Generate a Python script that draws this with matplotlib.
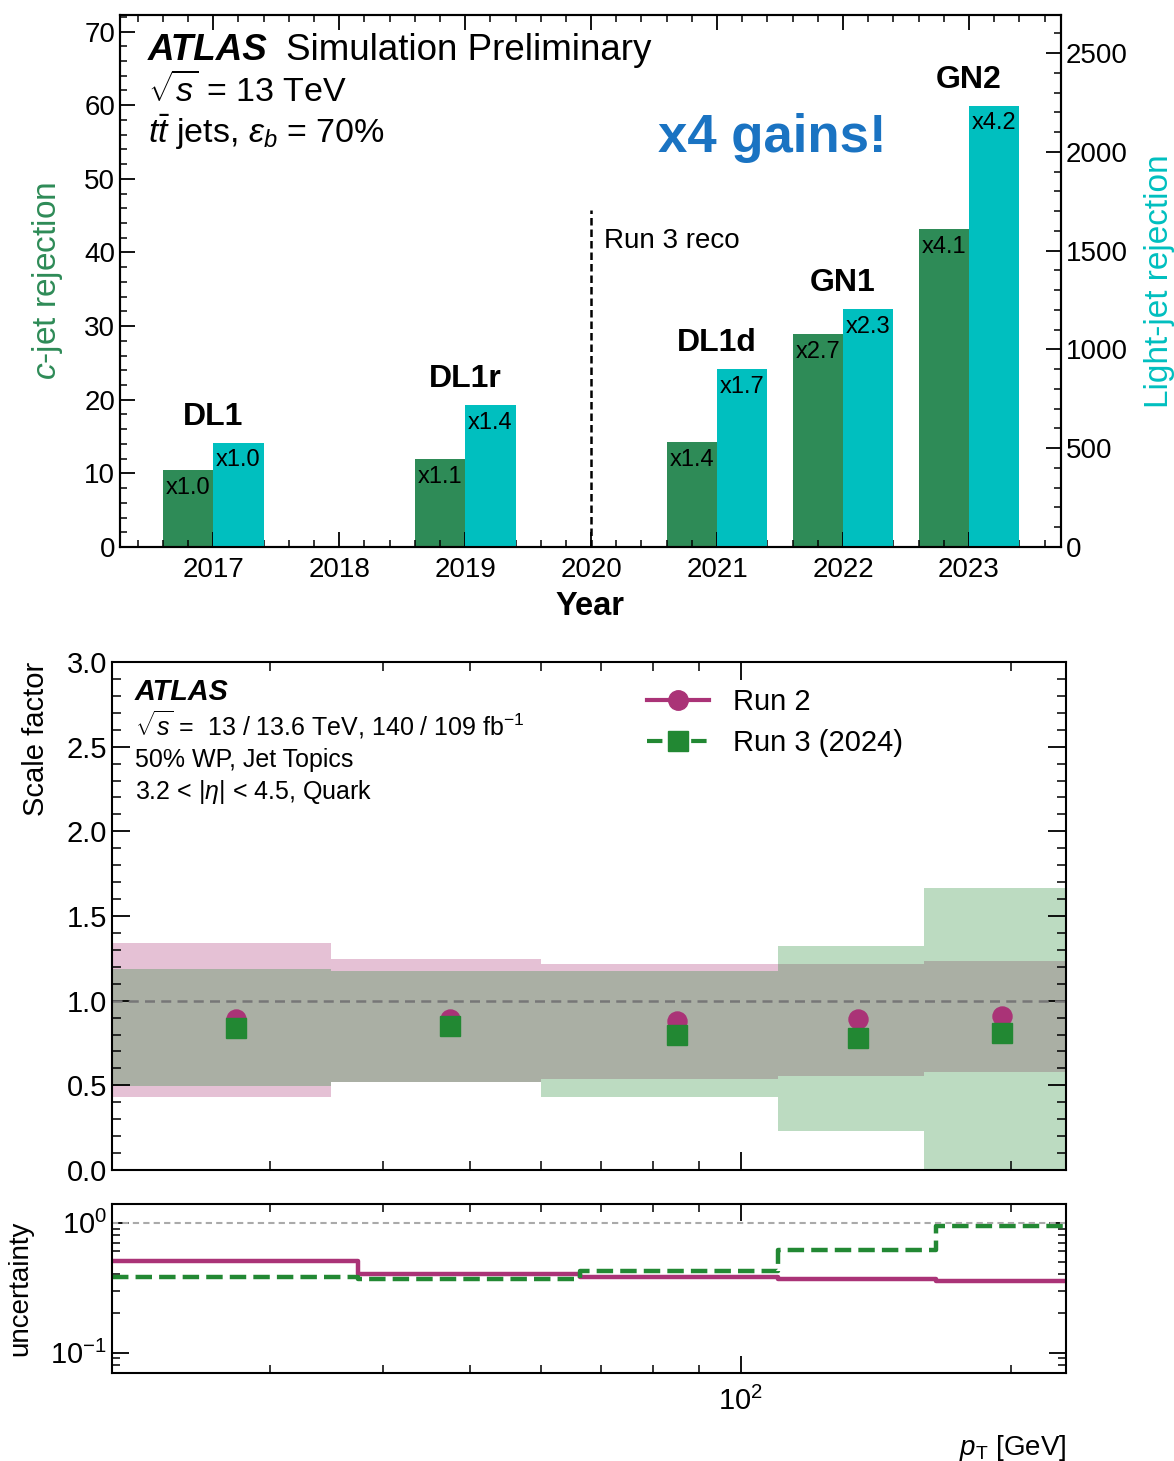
import numpy as np
import matplotlib
matplotlib.use('Agg')
import matplotlib.pyplot as plt
from matplotlib.lines import Line2D
from matplotlib.ticker import MultipleLocator, LogLocator, NullFormatter, FormatStrFormatter

plt.rcParams['font.family'] = ['Liberation Sans', 'DejaVu Sans']
plt.rcParams['mathtext.fontset'] = 'custom'
plt.rcParams['mathtext.rm'] = 'Liberation Sans'
plt.rcParams['mathtext.it'] = 'Liberation Sans:italic'
plt.rcParams['mathtext.bf'] = 'Liberation Sans:bold'

# ---- top panel: tagger performance vs year ----
years = [2017, 2019, 2021, 2022, 2023]
taggers = ['DL1', 'DL1r', 'DL1d', 'GN1', 'GN2']
c_rej = [10.5, 11.9, 14.3, 28.9, 43.2]
light_rej = [527, 717, 899, 1203, 2232]
c_gain = ['x1.0', 'x1.1', 'x1.4', 'x2.7', 'x4.1']
light_gain = ['x1.0', 'x1.4', 'x1.7', 'x2.3', 'x4.2']

# ---- middle/bottom panel: scale factors vs pT ----
pt_edges = [20, 35, 60, 110, 160, 230]
pt_centers = [27.5, 47.5, 85, 135, 195]
sf_run2 = [0.89, 0.89, 0.88, 0.89, 0.91]
sf_run3 = [0.84, 0.85, 0.80, 0.78, 0.81]
run2_lo = [0.43, 0.52, 0.536, 0.555, 0.579]
run2_hi = [1.341, 1.244, 1.215, 1.219, 1.234]
run3_lo = [0.497, 0.52, 0.428, 0.228, -0.05]
run3_hi = [1.188, 1.175, 1.175, 1.323, 1.666]
unc_run2 = [0.507, 0.405, 0.384, 0.369, 0.356]
unc_run3 = [0.384, 0.367, 0.425, 0.613, 0.938]

green_bar = '#2e8b57'
cyan_bar = '#00bfbf'
purple = '#AA3377'
green = '#228833'

fig = plt.figure(figsize=(11.74, 14.61), dpi=100)

ax = fig.add_axes([0.1022, 0.6256, 0.8015, 0.3644])
ax2 = ax.twinx()
w = 0.4
yr = np.array(years)
ax.bar(yr - w / 2, c_rej, width=w, color=green_bar)
ax2.bar(yr + w / 2, light_rej, width=w, color=cyan_bar)
ax.set_xlim(2016.26, 2023.73)
ax.set_ylim(0, 72.3)
ax2.set_ylim(0, 2695)

for x, v, g in zip(yr - w / 2, c_rej, c_gain):
    ax.annotate(g, (x, v), xytext=(0, -13), textcoords='offset points',
                ha='center', va='center', fontsize=17)
for x, v, g in zip(yr + w / 2, light_rej, light_gain):
    ax2.annotate(g, (x, v), xytext=(0, -12.5), textcoords='offset points',
                 ha='center', va='center', fontsize=17)
for x, v, t in zip(yr, light_rej, taggers):
    ax2.annotate(t, (x, v), xytext=(0, 19), textcoords='offset points',
                 ha='center', va='center', fontsize=23, weight='bold')

ax.plot([2020, 2020], [0, 45.8], color='k', ls='--', lw=1.8, dashes=(3, 1.6))
ax.text(2020.1, 41.6, 'Run 3 reco', fontsize=20, va='center', ha='left')
ax.text(2021.44, 55.6, 'x4 gains!', fontsize=38, weight='bold', color='#1a73c2',
        ha='center', va='center')

ax.text(0.0298, 0.9335, 'ATLAS', transform=ax.transAxes, fontsize=26.5,
        weight='bold', style='italic', va='center')
ax.text(0.1764, 0.9335, 'Simulation Preliminary', transform=ax.transAxes,
        fontsize=26.5, va='center')
ax.text(0.0298, 0.8565, r'$\sqrt{s}$ = 13 TeV', transform=ax.transAxes,
        fontsize=24.5, va='center')
ax.text(0.0298, 0.779, r'$t\bar{t}$ jets, $\varepsilon_b$ = 70%',
        transform=ax.transAxes, fontsize=24.5, va='center')

ax.set_xlabel('Year', fontsize=23.5, weight='bold', labelpad=6)
ax.set_ylabel('$c$-jet rejection', fontsize=24, color=green_bar, labelpad=14)
ax2.set_ylabel('Light-jet rejection', fontsize=24, color=cyan_bar, labelpad=12)

ax.xaxis.set_major_locator(MultipleLocator(1))
ax.xaxis.set_minor_locator(MultipleLocator(0.2))
ax.yaxis.set_major_locator(MultipleLocator(10))
ax.yaxis.set_minor_locator(MultipleLocator(2))
ax2.yaxis.set_major_locator(MultipleLocator(500))
ax2.yaxis.set_minor_locator(MultipleLocator(100))
ax.tick_params(axis='x', which='both', direction='in', top=True, labelsize=20, pad=7)
ax.tick_params(axis='y', which='both', direction='in', right=False, labelsize=20)
ax2.tick_params(axis='y', which='both', direction='in', labelsize=20)
for a in (ax, ax2):
    a.tick_params(which='major', length=11, width=1.3)
    a.tick_params(which='minor', length=5, width=1.1)
    for s in a.spines.values():
        s.set_linewidth(1.5)

# ---- middle panel ----
axm = fig.add_axes([0.0954, 0.1992, 0.8126, 0.3477])
axm.set_xscale('log')
widths = np.diff(pt_edges)
axm.bar(pt_edges[:-1], np.array(run2_hi) - np.array(run2_lo), width=widths,
        bottom=run2_lo, align='edge', color=purple, alpha=0.3, lw=0, zorder=1)
axm.bar(pt_edges[:-1], np.array(run3_hi) - np.array(run3_lo), width=widths,
        bottom=run3_lo, align='edge', color=green, alpha=0.3, lw=0, zorder=1)
axm.axhline(1.0, color='#777777', ls='--', lw=1.8, dashes=(4, 2.5), zorder=2)
axm.plot(pt_centers, sf_run2, 'o', color=purple, ms=13.7, zorder=3)
axm.plot(pt_centers, sf_run3, 's', color=green, ms=13.7, zorder=4)
axm.set_xlim(pt_edges[0], pt_edges[-1])
axm.set_ylim(0, 3)
axm.yaxis.set_major_locator(MultipleLocator(0.5))
axm.yaxis.set_minor_locator(MultipleLocator(0.1))
axm.yaxis.set_major_formatter(FormatStrFormatter('%.1f'))
axm.xaxis.set_minor_formatter(NullFormatter())
axm.tick_params(which='both', direction='in', top=True, right=True,
                labelbottom=False, labelsize=21)
axm.tick_params(which='major', length=13, width=1.3)
axm.tick_params(which='minor', length=6.5, width=1.1)
axm.set_ylabel('Scale factor', fontsize=21, loc='top')
axm.yaxis.set_label_coords(-0.065, 1.0)

handles = [Line2D([], [], color=purple, lw=3, marker='o', ms=14),
           Line2D([], [], color=green, lw=3, ls='--', marker='s', ms=14)]
axm.legend(handles, ['Run 2', 'Run 3 (2024)'], loc='upper left',
           bbox_to_anchor=(0.533, 1.0), frameon=False, fontsize=21,
           handlelength=2.15, handletextpad=0.8, labelspacing=0.45)

axm.text(0.0241, 0.941, 'ATLAS', transform=axm.transAxes, fontsize=20.7,
         weight='bold', style='italic', va='center')
axm.text(0.0241, 0.876, r'$\sqrt{s}$ =  13 / 13.6 TeV, 140 / 109 fb$^{-1}$',
         transform=axm.transAxes, fontsize=18, va='center')
axm.text(0.0241, 0.807, '50% WP, Jet Topics', transform=axm.transAxes,
         fontsize=18, va='center')
axm.text(0.0241, 0.744, r'3.2 < $|\eta|$ < 4.5, Quark', transform=axm.transAxes,
         fontsize=18, va='center')

# ---- bottom panel: relative uncertainty ----
axb = fig.add_axes([0.0954, 0.0602, 0.8126, 0.1157])
xs = [pt_edges[0]] + pt_centers + [pt_edges[-1]]
axb.step(xs, [unc_run2[0]] + unc_run2 + [unc_run2[-1]], where='mid',
         color=purple, lw=3.2)
axb.step(xs, [unc_run3[0]] + unc_run3 + [unc_run3[-1]], where='mid',
         color=green, lw=3.2, ls='--')
axb.axhline(1.0, color='#aaaaaa', ls='--', lw=1.5, dashes=(3, 2))
axb.set_xscale('log')
axb.set_yscale('log')
axb.set_xlim(pt_edges[0], pt_edges[-1])
axb.set_ylim(0.0695, 1.39)
axb.xaxis.set_minor_formatter(NullFormatter())
axb.yaxis.set_minor_formatter(NullFormatter())
axb.tick_params(which='both', direction='in', top=True, right=True, labelsize=21)
axb.tick_params(which='major', length=12, width=1.3)
axb.tick_params(which='minor', length=6, width=1.1)
axb.tick_params(axis='x', pad=10)
axb.set_ylabel('uncertainty', fontsize=20)
axb.yaxis.set_label_coords(-0.083, 0.5)
axb.set_xlabel(r'$p_{\mathrm{T}}$ [GeV]', fontsize=20, loc='right', labelpad=12)

for a in (axm, axb):
    for s in a.spines.values():
        s.set_linewidth(1.5)

fig.savefig('out.png', dpi=100)
